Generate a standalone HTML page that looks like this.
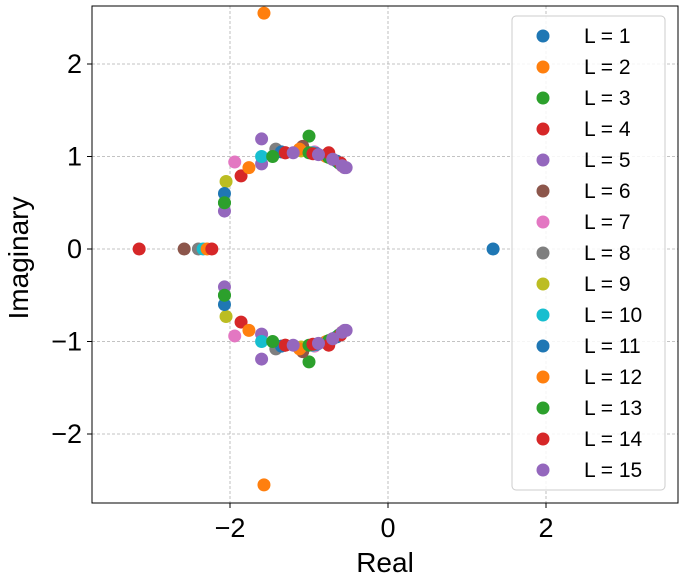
<!DOCTYPE html>
<html><head><meta charset="utf-8"><style>
body{margin:0;background:#fff}
svg{font-family:"Liberation Sans","DejaVu Sans",sans-serif}
</style></head><body>
<svg width="688" height="580" id="chart"></svg>
<script>
const seriesLabels=["L = 1","L = 2","L = 3","L = 4","L = 5","L = 6","L = 7","L = 8","L = 9","L = 10","L = 11","L = 12","L = 13","L = 14","L = 15"];
const seriesReal=[
[1.33],[-1.57],[-2.07,-1.0],[-3.15,-1.86,-1.3],[-2.07,-1.6,-0.55],[-2.58,-1.08],[-1.94,-0.93],[-2.4,-1.42,-0.8],
[-2.05,-1.1,-0.7],[-2.34,-1.6,-0.95,-0.6],[-2.07,-1.35,-0.9,-0.65],[-2.29,-1.76,-1.12,-0.78,-0.58],
[-1.46,-1.0,-0.75,-0.62,-2.07],[-2.23,-1.3,-0.95,-0.75,-0.6],[-1.6,-1.2,-0.88,-0.7,-0.58,-0.53]];
const seriesImag=[
[0],[2.55],[0.5,1.22],[0,0.79,1.04],[0.41,0.92,0.88],[0,1.11],[0.94,1.05],[0,1.08,1.01],
[0.73,1.06,0.97],[0,1.0,1.04,0.92],[0.6,1.05,1.03,0.95],[0,0.88,1.08,1.0,0.9],
[1.0,1.04,0.99,0.93,0.5],[0,1.04,1.03,1.04,0.93],[1.19,1.04,1.02,0.97,0.9,0.88]];
const xTicks=[-2,0,2];
const yTicks=[-2,-1,0,1,2];
const colors=["#1f77b4","#ff7f0e","#2ca02c","#d62728","#9467bd","#8c564b","#e377c2","#7f7f7f","#bcbd22","#17becf"];
const NS="http://www.w3.org/2000/svg";
const svg=document.getElementById('chart');
const L=92,R=678,T=6,B=503;
const sx=v=>388+v*79;
const sy=v=>249-v*92.5;
function mk(t,a,p){const e=document.createElementNS(NS,t);for(const k in a)e.setAttribute(k,a[k]);(p||svg).appendChild(e);return e;}
xTicks.forEach(v=>{
 const g=mk('line',{x1:sx(v),x2:sx(v),y1:T,y2:B,stroke:'#b0b0b0','stroke-width':0.8,'stroke-dasharray':'3,2'});
 
 
 mk('line',{x1:sx(v),x2:sx(v),y1:B,y2:B+5,stroke:'#000'});
 const t=mk('text',{x:sx(v),y:B+34,'font-size':27,'text-anchor':'middle'});
 t.textContent=v<0?'\u2212'+(-v):String(v);
 
 
});
yTicks.forEach(v=>{
 const g=mk('line',{x1:L,x2:R,y1:sy(v),y2:sy(v),stroke:'#b0b0b0','stroke-width':0.8,'stroke-dasharray':'3,2'});
 
 
 mk('line',{x1:L-5,x2:L,y1:sy(v),y2:sy(v),stroke:'#000'});
 const t=mk('text',{x:L-10,y:sy(v)+9,'font-size':27,'text-anchor':'end'});
 t.textContent=v<0?'\u2212'+(-v):String(v);
 
 
});
seriesLabels.forEach((lab,i)=>{
 const c=colors[i%10];
 seriesReal[i].forEach((re,j)=>{
  const im=seriesImag[i][j];
  const p=mk('circle',{cx:sx(re),cy:sy(im),r:6.5,fill:c});
  
  
  if(im!==0){
   const q=mk('circle',{cx:sx(re),cy:sy(-im),r:6.5,fill:c});
   
   
  }
 });
});
const frame=mk('rect',{x:L,y:T,width:R-L,height:B-T,fill:'none',stroke:'#000','stroke-width':1});


const lg=mk('rect',{x:512,y:16,width:153,height:474,rx:4,fill:'#fff','fill-opacity':0.85,stroke:'#ccc'});


seriesLabels.forEach((lab,i)=>{
 const y=36+i*31;
 const m=mk('circle',{cx:543,cy:y,r:6.5,fill:colors[i%10]});
 
 
 const t=mk('text',{x:584,y:y+7,'font-size':21});
 t.textContent=lab;
 
 
});
const xl=mk('text',{x:385,y:572,'font-size':28,'text-anchor':'middle'});
xl.textContent='Real';


const yl=mk('text',{x:28,y:258,'font-size':28,'text-anchor':'middle',transform:'rotate(-90 28 258)'});
yl.textContent='Imaginary';


</script>
</body></html>
